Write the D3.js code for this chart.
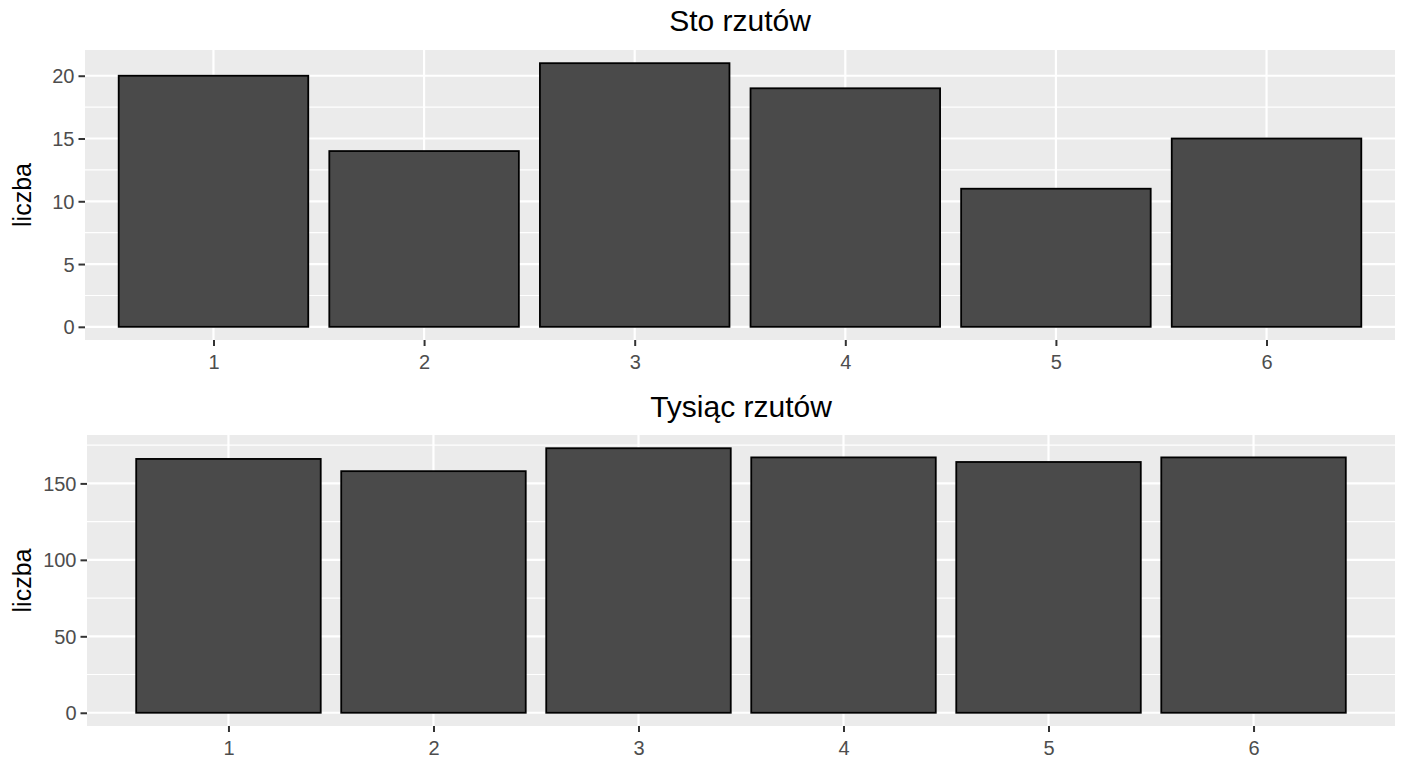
<!DOCTYPE html>
<html>
<head>
<meta charset="utf-8">
<script src="https://cdn.jsdelivr.net/npm/d3@7"></script>
<style>
  body { margin: 0; background: #fff; }
  text { font-family: "Liberation Sans", Arial, sans-serif; }
</style>
</head>
<body>
<div id="chart"></div>
<script>
// dane
var faces = [1, 2, 3, 4, 5, 6];
var stoCounts = [20, 14, 21, 19, 11, 15];
var tysiacCounts = [166, 158, 173, 167, 164, 167];
var stoTicks = [0, 5, 10, 15, 20];
var tysiacTicks = [0, 50, 100, 150];
var titles = ["Sto rzutów", "Tysiąc rzutów"];
var yLabel = "liczba";

var W = 1408, H = 768;
var svg = d3.select("#chart").append("svg").attr("width", W).attr("height", H);

function drawPanel(opt) {
    var g = svg.append("g");
    var x = d3.scalePoint().domain(faces).range([opt.left, opt.right]).padding(opt.pad);
    var maxV = d3.max(opt.values);
    var y = d3.scaleLinear().domain([-0.05 * maxV, maxV * 1.05]).range([opt.bottom, opt.top]);
    var step = x.step();

    // panel background
    g.append("rect")
        .attr("x", opt.left).attr("y", opt.top)
        .attr("width", opt.right - opt.left).attr("height", opt.bottom - opt.top)
        .attr("fill", "#ebebeb");

    // minor grid lines (halfway between major ticks)
    var minor = [];
    for (var i = 0; i < opt.ticks.length; i++) {
        var m = opt.ticks[i] + (opt.ticks[1] - opt.ticks[0]) / 2;
        if (m < y.domain()[1]) minor.push(m);
    }
    g.selectAll(".minor").data(minor).enter().append("line")
        .attr("x1", opt.left).attr("x2", opt.right)
        .attr("y1", function(d) { return y(d); }).attr("y2", function(d) { return y(d); })
        .attr("stroke", "#fff").attr("stroke-width", 1.1);

    g.selectAll(".hmajor").data(opt.ticks).enter().append("line")
        .attr("x1", opt.left).attr("x2", opt.right)
        .attr("y1", function(d) { return y(d); }).attr("y2", function(d) { return y(d); })
        .attr("stroke", "#fff").attr("stroke-width", 2.2);

    g.selectAll(".vmajor").data(faces).enter().append("line")
        .attr("x1", function(d) { return x(d); }).attr("x2", function(d) { return x(d); })
        .attr("y1", opt.top).attr("y2", opt.bottom)
        .attr("stroke", "#fff").attr("stroke-width", 2.2);

    // bars
    g.selectAll(".bar").data(opt.values).enter().append("rect")
        .attr("x", function(d, i) { return x(faces[i]) - step * 0.45; })
        .attr("width", step * 0.9)
        .attr("y", function(d) { return y(d); })
        .attr("height", function(d) { return y(0) - y(d); })
        .attr("fill", "#4a4a4a")
        .attr("stroke", "#000").attr("stroke-width", 1.8);

    // y axis
    var ya = g.append("g").attr("transform", "translate(" + opt.left + ",0)")
        .call(d3.axisLeft(y).tickValues(opt.ticks).tickSize(6.5).tickPadding(4));
    ya.select(".domain").remove();
    ya.selectAll(".tick line").attr("stroke", "#333").attr("stroke-width", 2);
    ya.selectAll(".tick text").attr("fill", "#4d4d4d").style("font-size", "20px")
        .attr("dy", "0.35em");

    // x axis
    var xa = g.append("g").attr("transform", "translate(0," + opt.bottom + ")")
        .call(d3.axisBottom(x).tickSize(6).tickPadding(8.5));
    xa.select(".domain").remove();
    xa.selectAll(".tick line").attr("stroke", "#333").attr("stroke-width", 2);
    xa.selectAll(".tick text").attr("fill", "#4d4d4d").style("font-size", "20px");

    // title
    g.append("text")
        .attr("x", (opt.left + opt.right) / 2).attr("y", opt.titleY)
        .attr("text-anchor", "middle").style("font-size", "30px").attr("fill", "#000")
        .text(opt.title);

    // y label
    g.append("text")
        .attr("transform", "translate(31," + ((opt.top + opt.bottom) / 2) + ") rotate(-90)")
        .attr("text-anchor", "middle").style("font-size", "25px").attr("fill", "#000")
        .text(yLabel);
}

drawPanel({ left: 85, right: 1395, top: 50, bottom: 340, pad: 0.61,
    values: stoCounts, ticks: stoTicks, title: titles[0], titleY: 31 });
drawPanel({ left: 87, right: 1395, top: 435, bottom: 726, pad: 0.69,
    values: tysiacCounts, ticks: tysiacTicks, title: titles[1], titleY: 417 });
</script>
</body>
</html>
